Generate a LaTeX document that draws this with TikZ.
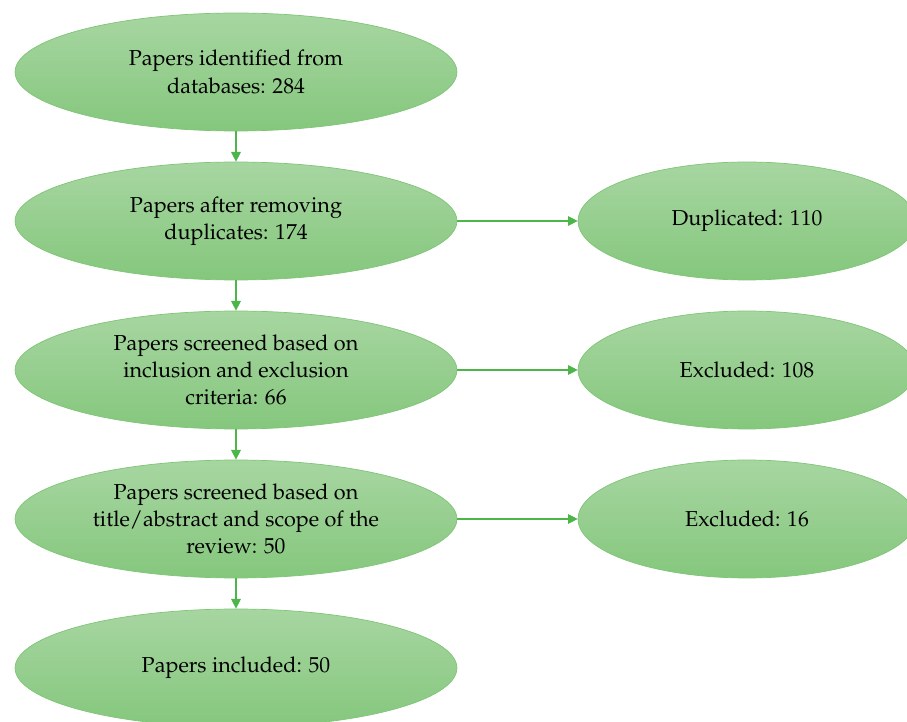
\documentclass[tikz,border=0pt]{standalone}
\usepackage[T1]{fontenc}
\usepackage{mathpazo}
\usetikzlibrary{arrows.meta,shapes.geometric}
\definecolor{leaftop}{HTML}{A7D6A1}
\definecolor{leafbot}{HTML}{85C77D}
\definecolor{leafline}{HTML}{7FC577}
\definecolor{stem}{HTML}{4DB649}

\begin{document}
\begin{tikzpicture}[x=0.02cm,y=-0.02cm,
    font=\fontsize{12.3}{15.6}\selectfont,
    blob/.style={ellipse,draw=leafline,line width=0.4pt,
                 top color=leaftop,bottom color=leafbot,
                 inner sep=0pt,align=center,minimum height=2.36cm},
    bigblob/.style={blob,minimum width=8.84cm},
    sideblob/.style={blob,minimum width=6.76cm},
    flow/.style={draw=stem,line width=0.6pt,-{Triangle[length=5.5pt,width=5.5pt]}}]
  \path[use as bounding box,clip] (0,0) rectangle (907,722);

  % main column
  \node[bigblob] (found)    at (236,72)  {Papers identified from\\databases: 284};
  \node[bigblob] (dedup)    at (236,221) {Papers after removing\\duplicates: 174};
  \node[bigblob] (criteria) at (236,370) {Papers screened based on\\inclusion and exclusion\\criteria: 66};
  \node[bigblob] (scope)    at (236,519) {Papers screened based on\\title/abstract and scope of the\\review: 50};
  \node[bigblob] (kept)     at (236,668) {Papers included: 50};

  % side column
  \node[sideblob] (dupl)  at (747,221) {Duplicated: 110};
  \node[sideblob] (excl1) at (747,370) {Excluded: 108};
  \node[sideblob] (excl2) at (747,519) {Excluded: 16};

  \draw[flow] (found) -- (dedup);
  \draw[flow] (dedup) -- (criteria);
  \draw[flow] (criteria) -- (scope);
  \draw[flow] (scope) -- (kept);

  \draw[flow] (dedup) -- (dupl);
  \draw[flow] (criteria) -- (excl1);
  \draw[flow] (scope) -- (excl2);
\end{tikzpicture}
\end{document}
